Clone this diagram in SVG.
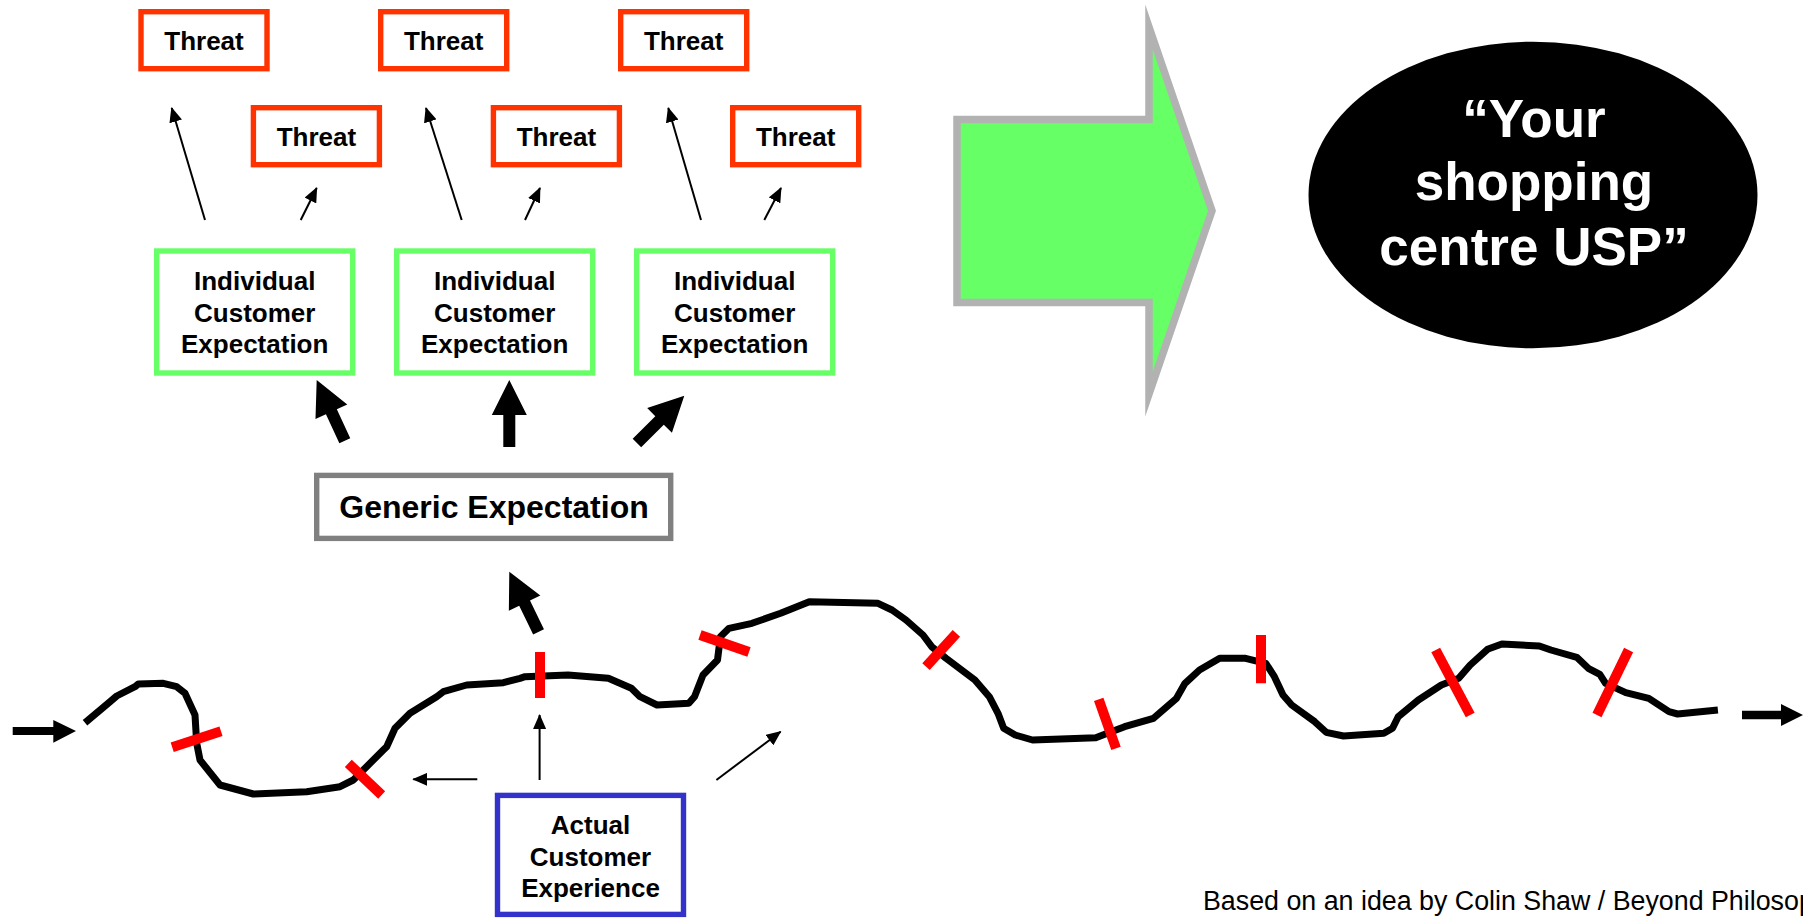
<svg xmlns="http://www.w3.org/2000/svg" width="1803" height="918" viewBox="0 0 1803 918">
<style>
text{font-family:"Liberation Sans",Arial,sans-serif;font-weight:bold;fill:#000;text-anchor:middle}
.threat rect{fill:#fff;stroke:#FF3300;stroke-width:5.4}
.ind rect{fill:#fff;stroke:#66FF66;stroke-width:5.4}
.thin{stroke:#000;stroke-width:2;fill:none;marker-end:url(#ah)}
.fat{fill:#000}
.bar{stroke:#FF0000;stroke-width:10;fill:none}
.t26{font-size:26px}
</style>
<defs>
<marker id="ah" viewBox="0 0 15 13" markerWidth="15" markerHeight="13" markerUnits="userSpaceOnUse" refX="14" refY="6.5" orient="auto"><path d="M0,0 L15,6.5 L0,13 Z" fill="#000"/></marker>
<path id="fatArrow" d="M0,0 L17.5,35 L6,35 L6,67 L-6,67 L-6,35 L-17.5,35 Z"/>
</defs>

<g id="threat1" class="threat"><rect x="141" y="11.7" width="126" height="57"/><text class="t26" x="204" y="50">Threat</text></g>
<g id="threat2" class="threat"><rect x="380.7" y="11.7" width="126" height="57"/><text class="t26" x="443.7" y="50">Threat</text></g>
<g id="threat3" class="threat"><rect x="620.7" y="11.7" width="126" height="57"/><text class="t26" x="683.7" y="50">Threat</text></g>
<g id="threat4" class="threat"><rect x="253.4" y="107.7" width="126" height="57"/><text class="t26" x="316.4" y="146">Threat</text></g>
<g id="threat5" class="threat"><rect x="493.4" y="107.7" width="126" height="57"/><text class="t26" x="556.4" y="146">Threat</text></g>
<g id="threat6" class="threat"><rect x="732.7" y="107.7" width="126" height="57"/><text class="t26" x="795.7" y="146">Threat</text></g>

<g id="ind1" class="ind"><rect x="156.7" y="251" width="196" height="122"/><text class="t26" x="254.7" y="290">Individual</text><text class="t26" x="254.7" y="321.7">Customer</text><text class="t26" x="254.7" y="353">Expectation</text></g>
<g id="ind2" class="ind"><rect x="396.7" y="251" width="196" height="122"/><text class="t26" x="494.7" y="290">Individual</text><text class="t26" x="494.7" y="321.7">Customer</text><text class="t26" x="494.7" y="353">Expectation</text></g>
<g id="ind3" class="ind"><rect x="636.7" y="251" width="196" height="122"/><text class="t26" x="734.7" y="290">Individual</text><text class="t26" x="734.7" y="321.7">Customer</text><text class="t26" x="734.7" y="353">Expectation</text></g>

<g id="generic"><rect x="316.7" y="475.4" width="354" height="63" fill="#fff" stroke="#808080" stroke-width="5.4"/><text x="494" y="518" style="font-size:32px">Generic Expectation</text></g>

<g id="actual"><rect x="497.5" y="795.4" width="186" height="119" fill="#fff" stroke="#3333CC" stroke-width="5.4"/><text class="t26" x="590.5" y="834">Actual</text><text class="t26" x="590.5" y="866">Customer</text><text class="t26" x="590.5" y="897">Experience</text></g>

<g id="bigArrow"><path d="M957,119.5 L1149,119.5 L1149,27 L1212,210.7 L1149,394 L1149,302.5 L957,302.5 Z" fill="#66FF66" stroke="#B2B2B2" stroke-width="7.5" stroke-miterlimit="10"/></g>

<g id="usp"><ellipse cx="1533" cy="195" rx="224.5" ry="153.3" fill="#000"/><text x="1534" y="136.7" style="font-size:53px;fill:#fff">“Your</text><text x="1534" y="200" style="font-size:53px;fill:#fff">shopping</text><text x="1534" y="265" style="font-size:53px;fill:#fff">centre USP”</text></g>

<g id="journey">
<path d="M85,722.7 L110,701.7 L116.7,696 L135,686.7 L138.3,684 L163.3,683.3 L176.7,686.7 L185,693.3 L195,715 L196.7,743.3 L200,760 L220,785 L253.3,794 L306.7,791.7 L340,786.7 L353.3,780 L383.3,750 L386.7,746.7 L395,728.3 L410,713.3 L436.7,696.7 L443.3,691.7 L466.7,685 L503.3,682.7 L520,678.3 L525,676.7 L568,675 L608.4,678.3 L631.4,688.3 L640,696.7 L657,705 L688.8,703.3 L694.5,696.7 L703,675 L717.5,660 L720.4,636.7 L729,628.3 L752,623.3 L780.6,613.3 L809.3,601.7 L878,603.3 L892,610 L906,620 L923,635 L931.7,646.7 L946,658.3 L974.9,680 L989.3,696.7 L998,713.3 L1003.7,728.3 L1015.2,735 L1032.5,740 L1095.8,737.7 L1107.4,733.3 L1124.6,726.7 L1153.4,718.3 L1176.5,698.3 L1185,683.3 L1199.5,670 L1219.7,658.3 L1245.6,658.3 L1265.8,663.3 L1274.4,676.7 L1283,695 L1291.7,705 L1314.7,721.7 L1326.2,732.3 L1343.5,736 L1383.8,733.3 L1392.5,728.3 L1398.2,716.7 L1418.4,700 L1441.4,685 L1458.7,678.3 L1470.2,665 L1487.5,649.3 L1501.9,644 L1539.4,646 L1550.9,650 L1576.8,657.3 L1588.3,668.3 L1599.8,674.3 L1605.6,683.3 L1625.8,692.7 L1648.8,698.3 L1669,711.7 L1677.6,714 L1717.9,710" fill="none" stroke="#000" stroke-width="7" stroke-linejoin="round"/>
<path d="M172.2,747.2 L221,731.3 M348.3,763.3 L381.7,795 M540,652 L540,698 M700,635 L749,652 M926,666.7 L956.4,633.3 M1098.7,699.3 L1116,748.3 M1261,635 L1261,683.3 M1435.7,650 L1470.2,715 M1628.6,650 L1597,715" class="bar"/>
</g>

<g id="connectors">
<line class="thin" x1="205" y1="220" x2="171.7" y2="108"/>
<line class="thin" x1="300.7" y1="220" x2="316.7" y2="188"/>
<line class="thin" x1="461.7" y1="220" x2="426" y2="108"/>
<line class="thin" x1="525" y1="220" x2="540" y2="188"/>
<line class="thin" x1="701" y1="220" x2="668.3" y2="108"/>
<line class="thin" x1="764.3" y1="220" x2="781" y2="188"/>
<use href="#fatArrow" class="fat" transform="translate(316.7,380) rotate(-24.8)"/>
<use href="#fatArrow" class="fat" transform="translate(509.3,380)"/>
<use href="#fatArrow" class="fat" transform="translate(684.3,395.7) rotate(45)"/>
<use href="#fatArrow" class="fat" transform="translate(509.3,571.7) rotate(-25.9)"/>
<line class="thin" x1="539.6" y1="780" x2="539.6" y2="715"/>
<line class="thin" x1="477.3" y1="779.3" x2="413.3" y2="779.3"/>
<line class="thin" x1="716.4" y1="780" x2="780.6" y2="731.7"/>
<path d="M12.7,727 L53.3,727 L53.3,720 L76,731 L53.3,742.7 L53.3,735 L12.7,735 Z" fill="#000"/>
<path d="M1742,710.7 L1781,710.7 L1781,704 L1803,715 L1781,726 L1781,719.3 L1742,719.3 Z" fill="#000"/>
</g>

<text x="1203" y="910" style="font-size:26.8px;font-weight:normal;text-anchor:start">Based on an idea by Colin Shaw / Beyond Philosop</text>
</svg>
